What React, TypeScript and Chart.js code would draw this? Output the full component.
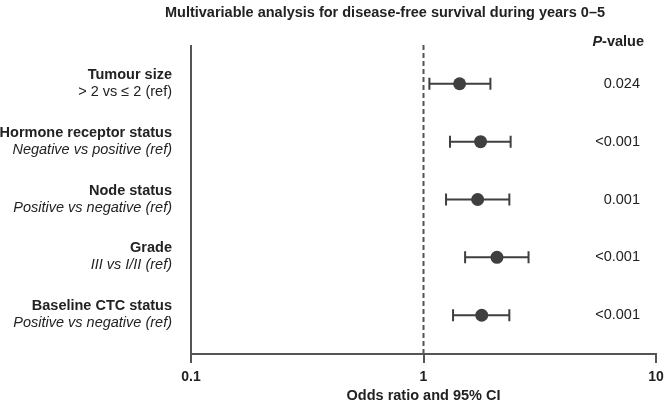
import React, { useEffect, useRef } from "react";
import { Chart, registerables } from "chart.js";

Chart.register(...registerables);

const titleText = "Multivariable analysis for disease-free survival during years 0–5";
const categories = ["Tumour size", "Hormone receptor status", "Node status", "Grade", "Baseline CTC status"];
const comparisons = [
  "> 2 vs ≤ 2 (ref)",
  "Negative vs positive (ref)",
  "Positive vs negative (ref)",
  "III vs I/II (ref)",
  "Positive vs negative (ref)",
];
const comparisonItalic = [false, true, true, true, true];
const oddsRatios = [1.43, 1.76, 1.71, 2.07, 1.78];
const lowerCI = [1.06, 1.3, 1.25, 1.51, 1.34];
const upperCI = [1.94, 2.37, 2.34, 2.83, 2.34];
const pValues = ["0.024", "<0.001", "0.001", "<0.001", "<0.001"];
const xTicks = [0.1, 1, 10];
const xTitle = "Odds ratio and 95% CI";

const FONT = "'Liberation Sans', Arial, Helvetica, sans-serif";
const AXIS = "#555555";
const MARK = "#3f3f3f";
const TEXT = "#222222";

export default function App() {
  const ref = useRef<HTMLCanvasElement | null>(null);

  useEffect(() => {
    const canvas = ref.current;
    if (!canvas) return;

    const forestPlugin = {
      id: "forest",
      beforeDatasetsDraw(chart: any) {
        const { ctx, chartArea, scales } = chart;
        const x = scales.x;
        const y = scales.y;
        ctx.save();
        ctx.strokeStyle = AXIS;
        ctx.lineWidth = 2;
        ctx.beginPath();
        ctx.moveTo(chartArea.left, chartArea.top);
        ctx.lineTo(chartArea.left, chartArea.bottom);
        ctx.stroke();
        const x1 = x.getPixelForValue(1);
        ctx.setLineDash([5, 3]);
        ctx.beginPath();
        ctx.moveTo(x1, chartArea.top);
        ctx.lineTo(x1, chartArea.bottom);
        ctx.stroke();
        ctx.setLineDash([]);
        ctx.strokeStyle = MARK;
        ctx.lineWidth = 2;
        for (let i = 0; i < oddsRatios.length; i++) {
          const py = y.getPixelForValue(i + 1);
          const xl = x.getPixelForValue(lowerCI[i]);
          const xr = x.getPixelForValue(upperCI[i]);
          ctx.beginPath();
          ctx.moveTo(xl, py);
          ctx.lineTo(xr, py);
          ctx.moveTo(xl, py - 6);
          ctx.lineTo(xl, py + 6);
          ctx.moveTo(xr, py - 6);
          ctx.lineTo(xr, py + 6);
          ctx.stroke();
        }
        ctx.restore();
      },
      afterDraw(chart: any) {
        const { ctx, scales } = chart;
        const x = scales.x;
        const y = scales.y;
        ctx.save();
        ctx.fillStyle = TEXT;
        ctx.font = `bold 14.5px ${FONT}`;
        ctx.textAlign = "center";
        ctx.textBaseline = "middle";
        ctx.fillText(titleText, 385, 13);
        ctx.textAlign = "left";
        ctx.font = `italic bold 14.5px ${FONT}`;
        const pW = ctx.measureText("P").width;
        ctx.font = `bold 14.5px ${FONT}`;
        const restW = ctx.measureText("-value").width;
        const startX = 644 - pW - restW;
        ctx.font = `italic bold 14.5px ${FONT}`;
        ctx.fillText("P", startX, 42);
        ctx.font = `bold 14.5px ${FONT}`;
        ctx.fillText("-value", startX + pW, 42);
        for (let i = 0; i < categories.length; i++) {
          const py = y.getPixelForValue(i + 1);
          ctx.textAlign = "right";
          ctx.font = `bold 14.5px ${FONT}`;
          ctx.fillText(categories[i], 172, py - 9);
          ctx.font = `${comparisonItalic[i] ? "italic " : ""}14.5px ${FONT}`;
          ctx.fillText(comparisons[i], 172, py + 8);
          ctx.font = `14.5px ${FONT}`;
          ctx.fillText(pValues[i], 640, py);
        }
        ctx.textAlign = "center";
        ctx.font = `bold 14.5px ${FONT}`;
        ctx.fillText(xTitle, x.getPixelForValue(1), 396);
        ctx.restore();
      },
    };

    const chart = new Chart(canvas, {
      type: "scatter",
      data: {
        datasets: [
          {
            data: oddsRatios.map((v, i) => ({ x: v, y: i + 1 })),
            backgroundColor: MARK,
            borderColor: MARK,
            borderWidth: 0,
            pointRadius: 6.5,
          },
        ],
      },
      options: {
        responsive: false,
        animation: false,
        layout: { padding: { left: 191, right: 0, top: 45, bottom: 0 } },
        plugins: { legend: { display: false }, tooltip: { enabled: false } },
        scales: {
          x: {
            type: "logarithmic",
            min: 0.1,
            max: 10,
            afterBuildTicks: (scale: any) => {
              scale.ticks = xTicks.map((v) => ({ value: v, major: true }));
            },
            afterFit: (scale: any) => {
              scale.height = 51;
              scale.paddingRight = 8;
            },
            grid: {
              drawOnChartArea: false,
              drawTicks: true,
              tickLength: 9,
              color: AXIS,
              lineWidth: 2,
            },
            border: { display: true, color: AXIS, width: 2 },
            ticks: {
              color: TEXT,
              font: { family: FONT, size: 14, weight: "bold" },
              padding: 6,
              maxRotation: 0,
              autoSkip: false,
              callback: (v: any) => String(v),
            },
          },
          y: {
            type: "linear",
            display: false,
            reverse: true,
            min: 0.33,
            max: 5.67,
          },
        },
      },
      plugins: [forestPlugin],
    } as any);

    return () => chart.destroy();
  }, []);

  return (
    <div style={{ position: "fixed", left: 0, top: 0, width: 664, height: 405, background: "#fff" }}>
      <canvas ref={ref} width={664} height={405} style={{ width: 664, height: 405, display: "block" }} />
    </div>
  );
}
